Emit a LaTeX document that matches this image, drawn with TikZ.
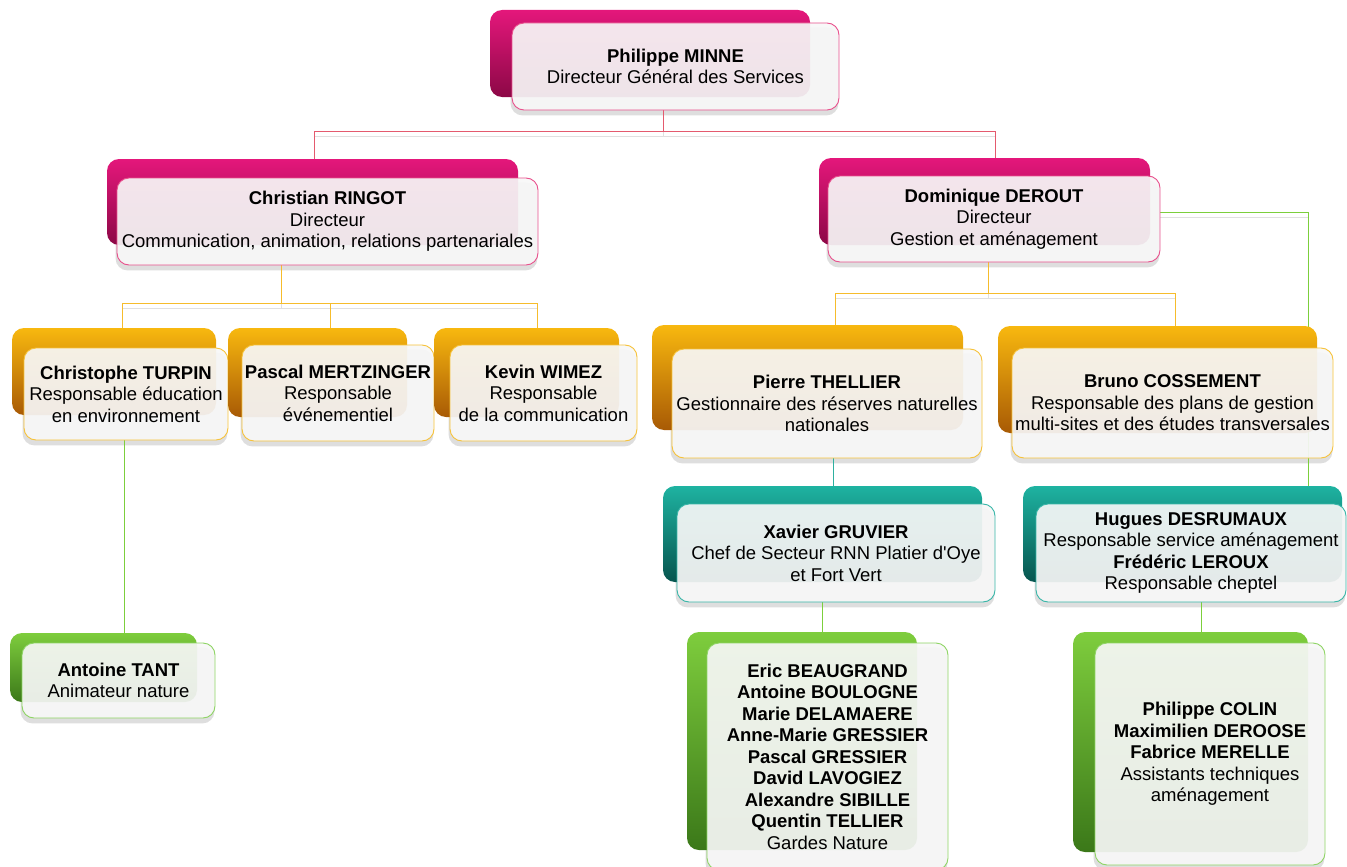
\documentclass[tikz,border=0pt]{standalone}
\usepackage{fontspec}
\setmainfont{Liberation Sans}
\usepackage{tikz}
\usetikzlibrary{arrows,backgrounds}

\definecolor{pinktop}{HTML}{E4177B}
\definecolor{pinkbot}{HTML}{8C0846}
\definecolor{pinkedge}{HTML}{E8508C}
\definecolor{orangetop}{HTML}{F8B80F}
\definecolor{orangebot}{HTML}{A85A05}
\definecolor{orangeedge}{HTML}{F6C23A}
\definecolor{tealtop}{HTML}{1EB3A1}
\definecolor{tealbot}{HTML}{07554F}
\definecolor{tealedge}{HTML}{38B6A8}
\definecolor{greentop}{HTML}{7ECD3D}
\definecolor{greenbot}{HTML}{3B7819}
\definecolor{greenedge}{HTML}{8ED464}
\definecolor{redlink}{HTML}{E45A6E}
\definecolor{orangelink}{HTML}{F6BC2C}
\definecolor{teallink}{HTML}{2EB0A0}
\definecolor{greenlink}{HTML}{7CCF3C}

\begin{document}
\begin{tikzpicture}[x=1pt,y=-1pt,font=\fontsize{18.5}{21.5}\selectfont]
  \tikzstyle{back}=[rounded corners=12pt,inner sep=0pt]
  \tikzstyle{front}=[rounded corners=12pt,inner sep=0pt,draw,line width=0.9pt,fill=white!97!black,fill opacity=0.92,text opacity=1,align=center,text=black]
  \tikzstyle{pinkback}=[back,top color=pinktop,bottom color=pinkbot]
  \tikzstyle{orangeback}=[back,top color=orangetop,bottom color=orangebot]
  \tikzstyle{tealback}=[back,top color=tealtop,bottom color=tealbot]
  \tikzstyle{greenback}=[back,top color=greentop,bottom color=greenbot]
  \tikzstyle{pinkfront}=[front,draw=pinkedge]
  \tikzstyle{orangefront}=[front,draw=orangeedge]
  \tikzstyle{tealfront}=[front,draw=tealedge]
  \tikzstyle{greenfront}=[front,draw=greenedge]
  \tikzstyle{link}=[line width=0.9pt,preaction={draw=black!12,transform canvas={yshift=-5pt}}]

  \useasboundingbox (0,0) rectangle (1347,867);

  % direction
  \node[pinkback,minimum width=320pt,minimum height=87pt]  (minneb)  at (650,53.5)   {};
  \node[pinkfront,minimum width=327pt,minimum height=87pt] (minne)   at (675.5,66.5) {\textbf{Philippe MINNE}\\Directeur Général des Services};

  \node[pinkback,minimum width=411pt,minimum height=86pt]  (ringotb) at (312.5,202)  {};
  \node[pinkfront,minimum width=421pt,minimum height=87pt] (ringot)  at (327.5,221.5) {\textbf{Christian RINGOT}\\Directeur\\Communication, animation, relations partenariales};

  \node[pinkback,minimum width=331pt,minimum height=87pt]  (deroutb) at (984.5,201.5) {};
  \node[pinkfront,minimum width=332pt,minimum height=86pt] (derout)  at (994,219)     {\textbf{Dominique DEROUT}\\Directeur\\Gestion et aménagement};

  % responsables
  \node[orangeback,minimum width=204pt,minimum height=87pt]  (turpinb) at (114,371.5) {};
  \node[orangefront,minimum width=204pt,minimum height=92pt] (turpin)  at (126,394)   {\textbf{Christophe TURPIN}\\Responsable éducation\\en environnement};

  \node[orangeback,minimum width=179pt,minimum height=89pt]  (mertzb)  at (317.5,372.5) {};
  \node[orangefront,minimum width=192pt,minimum height=96pt] (mertz)   at (338,393)     {\textbf{Pascal MERTZINGER}\\Responsable\\événementiel};

  \node[orangeback,minimum width=185pt,minimum height=89pt]  (wimezb)  at (526.5,372.5) {};
  \node[orangefront,minimum width=187pt,minimum height=96pt] (wimez)   at (543.5,393)   {\textbf{Kevin WIMEZ}\\Responsable\\de la communication};

  \node[orangeback,minimum width=311pt,minimum height=105pt]  (thellierb) at (807.5,377.5) {};
  \node[orangefront,minimum width=310pt,minimum height=109pt] (thellier)  at (827,403.5)   {\textbf{Pierre THELLIER}\\Gestionnaire des réserves naturelles\\nationales};

  \node[orangeback,minimum width=319pt,minimum height=107pt]  (cossementb) at (1157.5,379.5) {};
  \node[orangefront,minimum width=321pt,minimum height=110pt] (cossement)  at (1172.5,403)   {\textbf{Bruno COSSEMENT}\\Responsable des plans de gestion\\multi-sites et des études transversales};

  % secteurs
  \node[tealback,minimum width=319pt,minimum height=96pt]  (gruvierb) at (822.5,534) {};
  \node[tealfront,minimum width=318pt,minimum height=98pt] (gruvier)  at (836,553)   {\textbf{Xavier GRUVIER}\\Chef de Secteur RNN Platier d\textquotesingle Oye\\et Fort Vert};

  \node[tealback,minimum width=319pt,minimum height=96pt]  (desrumb) at (1182.5,534) {};
  \node[tealfront,minimum width=310pt,minimum height=98pt] (desrum)  at (1191,553)   {\textbf{Hugues DESRUMAUX}\\Responsable service aménagement\\\textbf{Frédéric LEROUX}\\Responsable cheptel};

  % equipes
  \node[greenback,minimum width=187pt,minimum height=69pt]  (tantb) at (103.5,667.5) {};
  \node[greenfront,minimum width=193pt,minimum height=75pt] (tant)  at (118.5,680.5) {\textbf{Antoine TANT}\\Animateur nature};

  \node[greenback,minimum width=230pt,minimum height=218pt]  (gardesb) at (802,741)     {};
  \node[greenfront,minimum width=241pt,minimum height=227pt] (gardes)  at (827.5,756.5) {\textbf{Eric BEAUGRAND}\\\textbf{Antoine BOULOGNE}\\\textbf{Marie DELAMAERE}\\\textbf{Anne-Marie GRESSIER}\\\textbf{Pascal GRESSIER}\\\textbf{David LAVOGIEZ}\\\textbf{Alexandre SIBILLE}\\\textbf{Quentin TELLIER}\\Gardes Nature};

  \node[greenback,minimum width=235pt,minimum height=220pt]  (colinb) at (1190.5,742) {};
  \node[greenfront,minimum width=230pt,minimum height=222pt] (colin)  at (1210,754)   {\textbf{Philippe COLIN}\\\textbf{Maximilien DEROOSE}\\\textbf{Fabrice MERELLE}\\Assistants techniques\\aménagement};

  \begin{pgfonlayer}{background}
    % shadows under the cards
    \foreach \n in {minne,ringot,derout,turpin,mertz,wimez,thellier,cossement,gruvier,desrum,tant,gardes,colin}
      \fill[black!13,rounded corners=12pt] ([shift={(-1pt,-5pt)}]\n.south west) rectangle ([shift={(-1pt,-5pt)}]\n.north east);

    % links
    \draw[link,redlink] ([xshift=-12.5pt]minne.south) -- ++(0,21) coordinate (dgs);
    \draw[link,redlink] ([xshift=2pt]ringotb.north) |- (dgs) -| ([xshift=10.5pt]deroutb.north);

    \draw[link,orangelink] ([xshift=-46.5pt]ringot.south) -- ++(0,38) coordinate (com);
    \draw[link,orangelink] ([xshift=8pt]turpinb.north) |- (com) -| ([xshift=10.5pt]wimezb.north);
    \draw[link,orangelink] ([xshift=12.5pt]mertzb.north) -- ([xshift=12.5pt]mertzb.north |- com);

    \draw[link,orangelink] ([xshift=-5.5pt]derout.south) -- ++(0,31) coordinate (gest);
    \draw[link,orangelink] ([xshift=27.5pt]thellierb.north) |- (gest) -| ([xshift=17.5pt]cossementb.north);

    \draw[link,greenlink] ([yshift=7pt]derout.east) -| ([xshift=126pt]desrumb.north);
    \draw[link,teallink] ([xshift=6pt]thellier.south) -- ([xshift=6pt]thellier.south |- gruvierb.north);
    \draw[link,greenlink] ([xshift=-14pt]gruvier.south) -- ([xshift=-14pt]gruvier.south |- gardesb.north);
    \draw[link,greenlink] ([xshift=10pt]desrum.south) -- ([xshift=10pt]desrum.south |- colinb.north);
    \draw[link,greenlink] ([xshift=-2pt]turpin.south) -- ([xshift=-2pt]turpin.south |- tantb.north);
  \end{pgfonlayer}
\end{tikzpicture}
\end{document}
